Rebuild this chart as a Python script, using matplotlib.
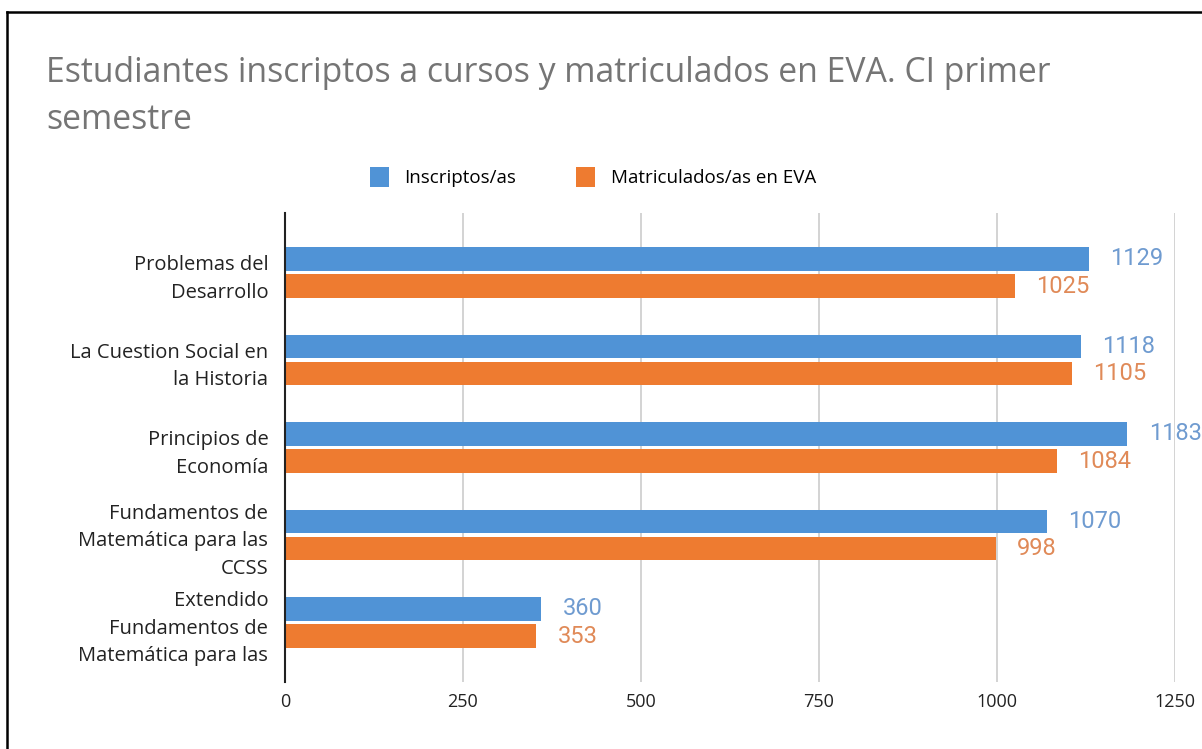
import matplotlib
matplotlib.use('Agg')
import matplotlib.pyplot as plt
from matplotlib.lines import Line2D
from matplotlib.patches import Patch
import numpy as np

# data (top to bottom)
categories = [
    'Problemas del\nDesarrollo',
    'La Cuestion Social en\nla Historia',
    'Principios de\nEconomía',
    'Fundamentos de\nMatemática para las\nCCSS',
    'Extendido\nFundamentos de\nMatemática para las',
]
inscriptos = [1129, 1118, 1183, 1070, 360]
matriculados = [1025, 1105, 1084, 998, 353]
series_names = ['Inscriptos/as', 'Matriculados/as en EVA']
xticks = [0, 250, 500, 750, 1000, 1250]

BLUE = '#5093d6'
ORANGE = '#ee7b30'
BLUE_TXT = '#6f9bd0'
ORANGE_TXT = '#e08a58'

W, H = 1202, 749
fig = plt.figure(figsize=(W / 100, H / 100), dpi=100)
ax = fig.add_axes([285 / W, 1 - 682 / H, 890 / W, 469 / H])

y = np.arange(len(categories))
bh = 0.27
off = 0.155
ax.barh(y - off, inscriptos, height=bh, color=BLUE, zorder=3)
ax.barh(y + off, matriculados, height=bh, color=ORANGE, zorder=3)

for yi, v in zip(y, inscriptos):
    ax.text(v + 30, yi - off, str(v), va='center', ha='left', color=BLUE_TXT,
            fontsize=17, family='Roboto', clip_on=False)
for yi, v in zip(y, matriculados):
    ax.text(v + 30, yi + off, str(v), va='center', ha='left', color=ORANGE_TXT,
            fontsize=17, family='Roboto', clip_on=False)

ax.set_xlim(0, 1250)
ax.set_ylim(4.68, -0.68)
ax.set_xticks(xticks)
ax.set_xticklabels([str(t) for t in xticks], fontsize=13, family='Open Sans', color='#222222')
ax.set_yticks(y)
ax.set_yticklabels(categories, fontsize=14.5, family='Open Sans', color='#222222',
                   multialignment='right', linespacing=1.5)
ax.tick_params(axis='both', length=0)
ax.tick_params(axis='y', pad=12)
ax.tick_params(axis='x', pad=8)

ax.grid(axis='x', color='#cccccc', linewidth=1.2, zorder=0)
for s in ['top', 'right', 'bottom']:
    ax.spines[s].set_visible(False)
ax.spines['left'].set_color('#222222')
ax.spines['left'].set_linewidth(1.5)
ax.spines['left'].set_zorder(4)

# baseline alignment applies to the last line of the title
fig.text(46 / W, 1 - 129 / H, 'Estudiantes inscriptos a cursos y matriculados en EVA. CI primer\nsemestre',
         ha='left', va='baseline', fontsize=24.3, family='Open Sans', color='#757575',
         linespacing=1.5)

handles = [Patch(facecolor=BLUE), Patch(facecolor=ORANGE)]
fig.legend(handles, series_names, loc='center', bbox_to_anchor=(593 / W, 1 - 177 / H),
           ncol=2, frameon=False, handlelength=1.0, handleheight=1.3,
           handletextpad=0.85, columnspacing=3.2, prop={'family': 'Open Sans', 'size': 13.5})

# black frame of the screenshot
fig.add_artist(Line2D([7 / W, 1], [1 - 12 / H, 1 - 12 / H], color='black', lw=1.8))
fig.add_artist(Line2D([7 / W, 7 / W], [0, 1 - 12 / H], color='black', lw=1.8))

fig.savefig('out.png', dpi=100)
